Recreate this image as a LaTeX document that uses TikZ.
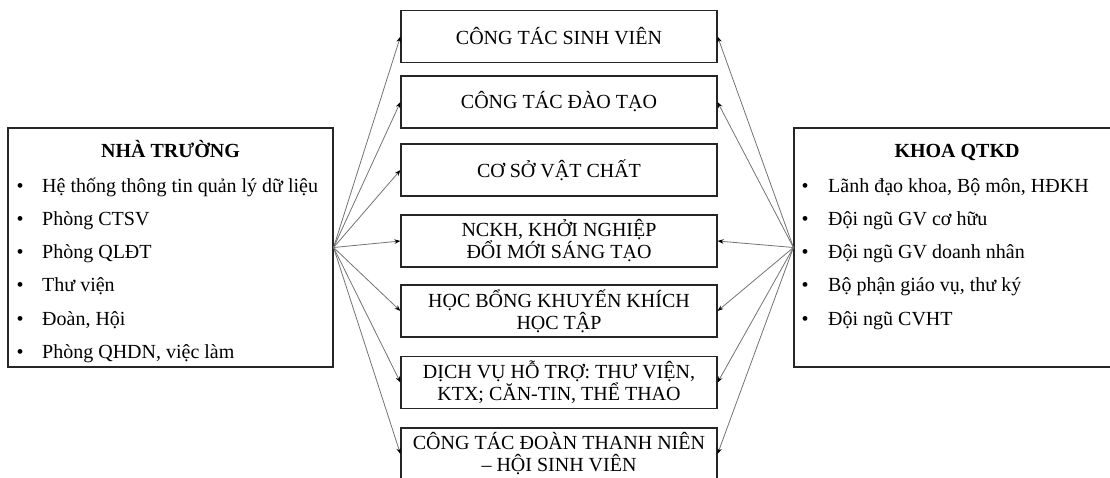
\documentclass[tikz,border=0pt]{standalone}
\usepackage{fontspec}
\setmainfont{Liberation Serif}
\usetikzlibrary{arrows.meta}
\tikzset{
  box/.style={draw=black!85, line width=1.1pt, rectangle, inner sep=0pt},
  midbox/.style={box, minimum width=316pt, minimum height=52pt, align=center,
    font=\fontsize{20}{22}\selectfont},
  conn/.style={draw=black!55, line width=0.8pt, -{Stealth[length=6pt,width=4.5pt,black]}},
  ttl/.style={anchor=base, inner sep=0pt, font=\fontsize{20}{24}\selectfont\bfseries},
  itm/.style={anchor=base west, inner sep=0pt, font=\fontsize{20}{24}\selectfont},
}
\begin{document}
\begin{tikzpicture}[x=1pt,y=-1pt]
\useasboundingbox (0,0) rectangle (1110,477);
% side boxes
\node[box, minimum width=325pt, minimum height=239pt] (nt) at (170.5,247.5) {};
\node[box, minimum width=326pt, minimum height=239pt] (kh) at (957,247.5) {};
% left texts
\node[ttl] (ntt) at (170.5,157) {NHÀ TRƯỜNG};
\foreach \i/\t/\yy in {1/Hệ thống thông tin quản lý dữ liệu/192, 2/Phòng CTSV/225, 3/Phòng QLĐT/258, 4/Thư viện/291, 5/{Đoàn, Hội}/325, 6/{Phòng QHDN, việc làm}/358}{
  \node[itm] (ntb\i) at (16.5,\yy) {•};
  \node[itm] (nti\i) at (42,\yy) {\t};
}
% right texts
\node[ttl] (kht) at (957,157) {KHOA QTKD};
\foreach \i/\t/\yy in {1/{Lãnh đạo khoa, Bộ môn, HĐKH}/192, 2/Đội ngũ GV cơ hữu/225, 3/Đội ngũ GV doanh nhân/258, 4/{Bộ phận giáo vụ, thư ký}/291, 5/Đội ngũ CVHT/325}{
  \node[itm] (khb\i) at (801.5,\yy) {•};
  \node[itm] (khi\i) at (828,\yy) {\t};
}
% middle boxes
\node[midbox] (c1) at (559,36.5) {CÔNG TÁC SINH VIÊN};
\node[midbox] (c2) at (559,102) {CÔNG TÁC ĐÀO TẠO};
\node[midbox] (c3) at (559,170) {CƠ SỞ VẬT CHẤT};
\node[midbox] (c4) at (559,241) {NCKH, KHỞI NGHIỆP\\ĐỔI MỚI SÁNG TẠO};
\node[midbox] (c5) at (559,311) {HỌC BỔNG KHUYẾN KHÍCH\\HỌC TẬP};
\node[midbox] (c6) at (559,382.5) {DỊCH VỤ HỖ TRỢ: THƯ VIỆN,\\KTX; CĂN-TIN, THỂ THAO};
\node[midbox] (c7) at (559,454) {CÔNG TÁC ĐOÀN THANH NIÊN\\– HỘI SINH VIÊN};
% connectors
\foreach \k in {1,...,7}{\draw[conn] (nt.east) -- (c\k.west);}
\foreach \k in {1,2,4,5,6,7}{\draw[conn] (kh.west) -- (c\k.east);}
\end{tikzpicture}
\end{document}
